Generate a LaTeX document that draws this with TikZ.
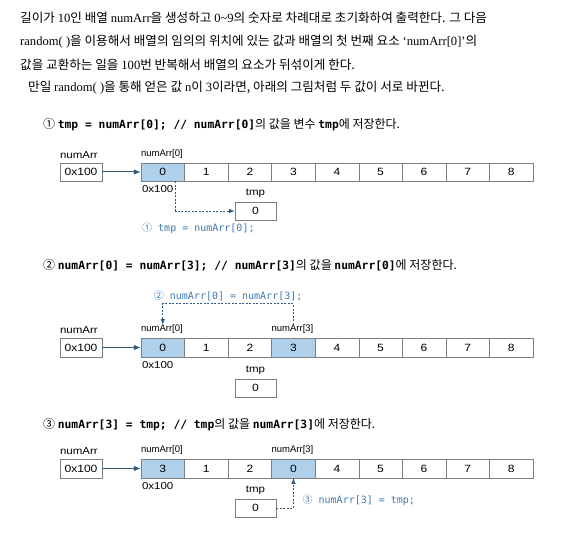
\documentclass[tikz,border=0pt]{standalone}
\usepackage{fontspec}
\setmainfont{Noto Sans CJK KR}
\setmonofont{DejaVu Sans Mono}
\newfontfamily\lab[FakeStretch=1.15]{Liberation Sans}
\newfontfamily\labn{Liberation Sans}
\newfontfamily\en{Liberation Serif}
\usepackage{xcolor}
\usetikzlibrary{positioning,arrows.meta,calc}

\definecolor{cellblue}{HTML}{AFD0EA}
\definecolor{linegray}{HTML}{7E7E7E}
\definecolor{arrowblue}{HTML}{2E5A80}
\definecolor{codeblue}{HTML}{3F79B0}

\newcommand\kw[1]{{\ttfamily\bfseries\fontsize{11.3}{12}\selectfont #1}}

\tikzset{
  cell/.style={draw=linegray, minimum width=43.55pt, minimum height=18.5pt, inner sep=0pt, font=\lab\fontsize{10.5}{11}\selectfont},
  hot/.style={fill=cellblue},
  cold/.style={},
  ptrbox/.style={draw=linegray, minimum width=42pt, minimum height=18.5pt, inner sep=0pt, font=\lab\fontsize{10.5}{11}\selectfont},
  tmpbox/.style={draw=linegray, minimum width=41pt, minimum height=18pt, inner sep=0pt, font=\lab\fontsize{10.5}{11}\selectfont},
  lbl/.style={inner sep=0pt, font=\lab\fontsize{10}{11}\selectfont},
  idx/.style={inner sep=0pt, font=\labn\fontsize{9.5}{10}\selectfont},
  ptr/.style={draw=arrowblue, line width=1pt, -{Latex[length=7pt,width=5.5pt]}},
  flow/.style={draw=arrowblue, dash pattern=on 2pt off 1.5pt, line width=0.7pt, -{Latex[length=6pt,width=4.5pt]}},
  code/.style={inner sep=0pt, text=codeblue, font=\ttfamily\fontsize{10}{11}\selectfont},
  headline/.style={inner sep=0pt, anchor=west, font=\fontsize{12}{13}\selectfont},
  intro/.style={inner sep=0pt, anchor=west, font=\fontsize{12.6}{14}\selectfont}
}

\begin{document}
\begin{tikzpicture}[x=1pt, y=-1pt]
	\useasboundingbox[fill=white] (0,0) rectangle (568,534);

	% Intro text
	\node[intro] (l1) at (20,18) {길이가 {\en 10}인 배열 {\en numArr}을 생성하고 {\en 0\textasciitilde 9}의 숫자로 차례대로 초기화하여 출력한다. 그 다음};
	\node[intro] (l2) at (20,42) {{\en random( )}을 이용해서 배열의 임의의 위치에 있는 값과 배열의 첫 번째 요소 {\en ‘numArr[0]’}의};
	\node[intro] (l3) at (20,65) {값을 교환하는 일을 {\en 100}번 반복해서 배열의 요소가 뒤섞이게 한다.};
	\node[intro] (l4) at (28,88) {만일 {\en random( )}을 통해 얻은 값 {\en n}이 {\en 3}이라면, 아래의 그림처럼 두 값이 서로 바뀐다.};

	% Step 1
	\node[headline] (t1) at (43,125) {① \kw{tmp = numArr[0]; // numArr[0]}의 값을 변수 \kw{tmp}에 저장한다.};
	\node[ptrbox] (p1) at (81,172) {0x100};
	\foreach \v/\s [count=\i from 0] in {0/hot,1/cold,2/cold,3/cold,4/cold,5/cold,6/cold,7/cold,8/cold}
		\node[cell, \s] (a1-\i) at (162.8+43.55*\i,172) {\v};
	\node[lbl, above right=4pt and 0pt of p1.north west] (n1) {numArr};
	\node[idx, above right=4pt and 0pt of a1-0.north west] (lb1-0) {numArr[0]};
	\node[lbl, below right=4pt and 1pt of a1-0.south west] (ad1) {0x100};
	\node[tmpbox] (tmp1) at (255.5,211) {0};
	\node[lbl, above=4pt of tmp1] (tl1) {tmp};
	\node[code, anchor=west] (c1) at (142,228) {{\rmfamily ①} tmp = numArr[0];};
	\draw[ptr] (p1) -- (a1-0);
	\draw[flow] ([xshift=13pt]a1-0.south) |- (tmp1.west);

	% Step 2
	\node[headline] (t2) at (43,265) {② \kw{numArr[0] = numArr[3]; // numArr[3]}의 값을 \kw{numArr[0]}에 저장한다.};
	\node[ptrbox] (p2) at (81,347.5) {0x100};
	\foreach \v/\s [count=\i from 0] in {0/hot,1/cold,2/cold,3/hot,4/cold,5/cold,6/cold,7/cold,8/cold}
		\node[cell, \s] (a2-\i) at (162.8+43.55*\i,347.5) {\v};
	\node[lbl, above right=4pt and 0pt of p2.north west] (n2) {numArr};
	\node[idx, above right=4pt and 0pt of a2-0.north west] (lb2-0) {numArr[0]};
	\node[idx, above right=4pt and 0pt of a2-3.north west] (lb2-3) {numArr[3]};
	\node[lbl, below right=4pt and 1pt of a2-0.south west] (ad2) {0x100};
	\node[tmpbox] (tmp2) at (255.5,388) {0};
	\node[lbl, above=4pt of tmp2] (tl2) {tmp};
	\draw[ptr] (p2) -- (a2-0);
	\draw[flow] (a2-3.north |- lb2-3.north) -- ++(0,-21) coordinate (k2) -| (a2-0.north |- lb2-0.north);
	\node[code, above=3pt of {$(k2)!0.5!(a2-0.north |- k2)$}] (c2) {{\rmfamily ②} numArr[0] = numArr[3];};

	% Step 3
	\node[headline] (t3) at (43,425) {③ \kw{numArr[3] = tmp; // tmp}의 값을 \kw{numArr[3]}에 저장한다.};
	\node[ptrbox] (p3) at (81,468.5) {0x100};
	\foreach \v/\s [count=\i from 0] in {3/hot,1/cold,2/cold,0/hot,4/cold,5/cold,6/cold,7/cold,8/cold}
		\node[cell, \s] (a3-\i) at (162.8+43.55*\i,468.5) {\v};
	\node[lbl, above right=4pt and 0pt of p3.north west] (n3) {numArr};
	\node[idx, above right=4pt and 0pt of a3-0.north west] (lb3-0) {numArr[0]};
	\node[idx, above right=4pt and 0pt of a3-3.north west] (lb3-3) {numArr[3]};
	\node[lbl, below right=4pt and 1pt of a3-0.south west] (ad3) {0x100};
	\node[tmpbox] (tmp3) at (255.5,508) {0};
	\node[lbl, above=4pt of tmp3] (tl3) {tmp};
	\draw[ptr] (p3) -- (a3-0);
	\draw[flow] (tmp3.east) -| (a3-3.south);
	\node[code, anchor=west] (c3) at ($(a3-3.south)+(9,22)$) {{\rmfamily ③} numArr[3] = tmp;};
\end{tikzpicture}
\end{document}
